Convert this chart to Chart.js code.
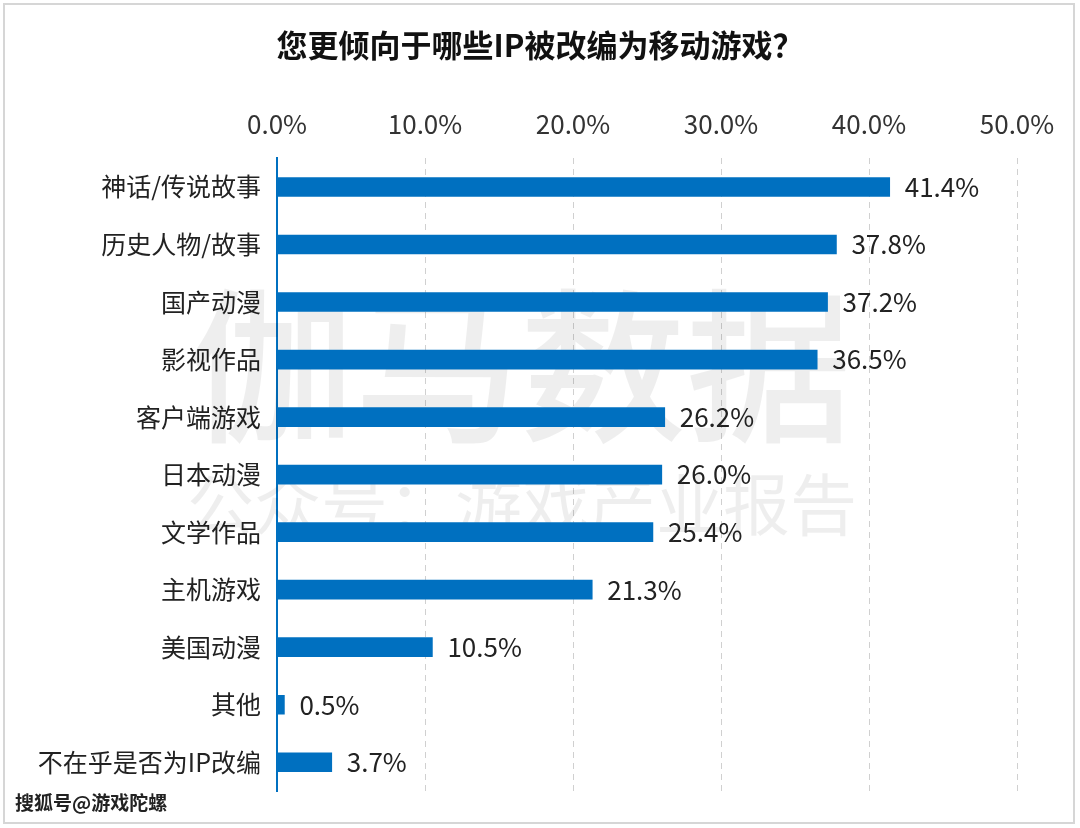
<!DOCTYPE html>
<html>
<head>
<meta charset="utf-8">
<script src="https://cdn.jsdelivr.net/npm/chart.js@4/dist/chart.umd.min.js"></script>
<style>
  html, body { margin: 0; padding: 0; background: #fff; }
  #wrap { width: 1080px; height: 828px; position: relative; }
</style>
</head>
<body>
<div id="wrap"><canvas id="chart"></canvas></div>
<script>
  var categories = ['神话/传说故事', '历史人物/故事', '国产动漫', '影视作品', '客户端游戏', '日本动漫', '文学作品', '主机游戏', '美国动漫', '其他', '不在乎是否为IP改编'];
  var shares = [41.4, 37.8, 37.2, 36.5, 26.2, 26.0, 25.4, 21.3, 10.5, 0.5, 3.7];
  var xTicks = [0, 10, 20, 30, 40, 50];

  var FONT = '"Noto Sans CJK SC", "Noto Sans", sans-serif';
  var BLUE = '#0070C0';
  var TITLE = '您更倾向于哪些IP被改编为移动游戏？';

  // light grey watermark behind the bars, frame, title and footer
  var decor = {
    id: 'decor',
    beforeDatasetsDraw: function (chart) {
      var c = chart.ctx;
      c.save();
      c.fillStyle = 'rgba(0,0,0,0.065)';
      c.textAlign = 'center';
      c.textBaseline = 'middle';
      c.font = '500 166px ' + FONT;
      c.fillText('伽马数据', 520, 366);
      c.font = '67px ' + FONT;
      c.fillText('公众号：游戏产业报告', 522, 505);
      c.restore();
    },
    afterDraw: function (chart) {
      var c = chart.ctx;
      c.save();
      c.strokeStyle = '#d6d6d6';
      c.lineWidth = 2;
      c.strokeRect(4, 4, 1070, 819);

      c.fillStyle = '#111';
      c.textAlign = 'center';
      c.textBaseline = 'middle';
      c.font = 'bold 31px ' + FONT;
      c.fillText(TITLE, 540, 45);

      c.font = 'bold 19px ' + FONT;
      c.textAlign = 'left';
      c.lineWidth = 3;
      c.strokeStyle = '#fff';
      c.strokeText('搜狐号@游戏陀螺', 15, 803);
      c.fillStyle = '#222';
      c.fillText('搜狐号@游戏陀螺', 15, 803);
      c.restore();
    }
  };

  var valueLabels = {
    id: 'valueLabels',
    afterDatasetsDraw: function (chart) {
      var c = chart.ctx;
      var meta = chart.getDatasetMeta(0);
      c.save();
      c.font = '26px ' + FONT;
      c.fillStyle = '#222';
      c.textAlign = 'left';
      c.textBaseline = 'middle';
      meta.data.forEach(function (bar, i) {
        c.fillText(shares[i].toFixed(1) + '%', bar.x + 15, bar.y);
      });
      c.restore();
    }
  };

  new Chart(document.getElementById('chart'), {
    type: 'bar',
    data: {
      labels: categories,
      datasets: [{
        data: shares,
        backgroundColor: BLUE,
        barThickness: 19
      }]
    },
    options: {
      indexAxis: 'y',
      responsive: true,
      maintainAspectRatio: false,
      animation: false,
      layout: { padding: { left: 0, right: 63, top: 91, bottom: 37 } },
      plugins: {
        legend: { display: false },
        tooltip: { enabled: false },
        title: { display: false }
      },
      scales: {
        x: {
          position: 'top',
          min: 0,
          max: 50,
          afterBuildTicks: function (scale) {
            scale.ticks = xTicks.map(function (v) { return { value: v }; });
          },
          ticks: {
            color: '#333',
            padding: 18,
            font: { family: FONT, size: 26 },
            callback: function (v) { return Number(v).toFixed(1) + '%'; }
          },
          grid: { color: '#d0d0d0', lineWidth: 1, drawTicks: false },
          border: { display: false, dash: [6, 5] }
        },
        y: {
          afterFit: function (scale) { scale.width = 277; },
          ticks: {
            color: '#222',
            padding: 8,
            font: { family: FONT, size: 25 }
          },
          grid: { display: false },
          border: { display: true, color: BLUE, width: 2 }
        }
      }
    },
    plugins: [decor, valueLabels]
  });
</script>
</body>
</html>
